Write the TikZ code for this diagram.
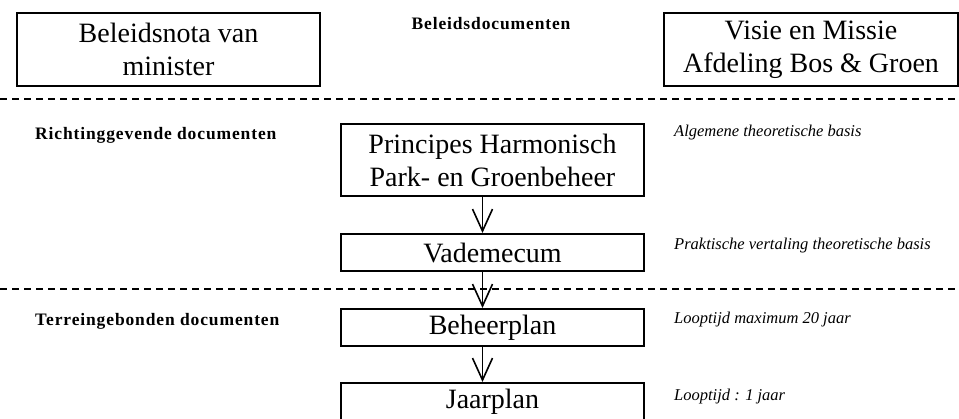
\documentclass[tikz,border=0pt]{standalone}
\usepackage{fontspec}
\setmainfont{Liberation Serif}
\newfontfamily\lblfont[LetterSpace=5]{Liberation Serif}
\usetikzlibrary{arrows.meta,calc}

\tikzset{
  doc/.style={draw,line width=2pt,align=center,inner sep=0pt,anchor=north west,
    minimum width=303pt,font=\fontsize{28}{33}\selectfont},
  lvl/.style={anchor=west,inner sep=0pt,font=\lblfont\bfseries\fontsize{17.5}{20}\selectfont},
  note/.style={anchor=west,inner sep=0pt,font=\itshape\fontsize{16.5}{20}\selectfont},
  sep/.style={dashed,dash pattern=on 7pt off 5pt,line width=1.5pt},
  arr/.style={line width=1.6pt,-{Straight Barb[length=22pt,width=20pt,line width=1.6pt]}}
}

\begin{document}
\begin{tikzpicture}[x=1pt,y=-1pt]
\useasboundingbox (0,0) rectangle (959,418);
\draw[sep] (0,99) -- (959,99);
\draw[sep] (0,289) -- (959,289);
\node[doc,minimum height=73pt] at (16,12) (bn) {Beleidsnota van\\minister};
\node[doc,minimum height=73pt,minimum width=294pt] at (663,12) (vm) {Visie en Missie\\Afdeling Bos \& Groen};
\node[lvl,anchor=center] at (491,24) (bd) {Beleidsdocumenten};
\node[doc,minimum height=72pt] at (340,123) (ph) {Principes Harmonisch\\Park- en Groenbeheer};
\node[doc,minimum height=37pt] at (340,233) (vd) {Vademecum};
\node[doc,minimum height=37pt] at (340,308) (bp) {Beheerplan};
\node[doc,minimum height=37pt] at (340,382) (jp) {Jaarplan};
\node[lvl] at (35,135) (rg) {Richtinggevende documenten};
\node[lvl] at (35,321) (tg) {Terreingebonden documenten};
\node[note] at (674,133) (alg) {Algemene theoretische basis};
\node[note] at (674,246) (pra) {Praktische vertaling theoretische basis};
\node[note] at (674,320) (lt1) {Looptijd maximum 20 jaar};
\node[note] at (674,397) (lt2) {Looptijd : 1 jaar};
\draw[arr] ([xshift=-10pt]ph.south) -- ([xshift=-10pt]vd.north);
\draw[arr] ([xshift=-10pt]vd.south) -- ([xshift=-10pt]bp.north);
\draw[arr] ([xshift=-10pt]bp.south) -- ([xshift=-10pt]jp.north);
\end{tikzpicture}
\end{document}
